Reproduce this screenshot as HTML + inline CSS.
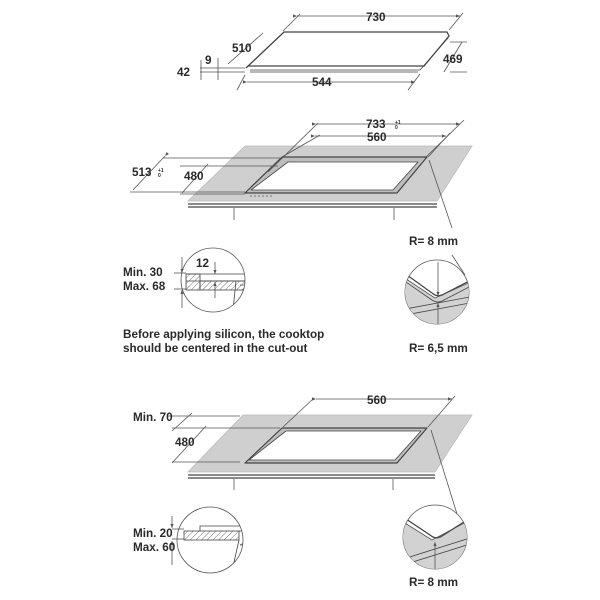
<!DOCTYPE html>
<html><head><meta charset="utf-8"><style>
html,body{margin:0;padding:0;background:#fff}
svg{display:block}
text{font-family:"Liberation Sans",sans-serif;font-weight:bold;fill:#2a2a2a}
</style></head><body>
<svg width="600" height="600" viewBox="0 0 600 600" xmlns="http://www.w3.org/2000/svg">
<defs>
<pattern id="h" width="4" height="4" patternUnits="userSpaceOnUse" patternTransform="rotate(45)">
<line x1="0" y1="0" x2="0" y2="4" stroke="#555" stroke-width="0.8"/></pattern>
<marker id="a" markerWidth="6" markerHeight="6" refX="5" refY="3" orient="auto"><path d="M0,1 L5,3 L0,5" fill="#555"/></marker>
<clipPath id="c1"><circle cx="213" cy="280" r="32"/></clipPath>
<clipPath id="c2"><circle cx="437" cy="292" r="32"/></clipPath>
<clipPath id="c3"><circle cx="210" cy="540" r="33"/></clipPath>
<clipPath id="c4"><circle cx="435" cy="537" r="32"/></clipPath>
</defs>
<g stroke="#555" stroke-width="0.8" fill="none">
<path d="M284,32 L447,32 L449,36 L424,66 L248,66 L246,68 Z" fill="#fff" stroke="#444" stroke-width="1.3"/>
<path d="M250,70 L420,70 L448,38 M250,72 L418,72" stroke="#444"/>
<line x1="297" y1="16" x2="460" y2="16" marker-start="url(#a)" marker-end="url(#a)"/>
<line x1="300" y1="14" x2="283" y2="31"/><line x1="463" y1="13" x2="449" y2="30"/>
<line x1="263" y1="33" x2="228" y2="64"/>
<line x1="450" y1="42" x2="467" y2="42"/><line x1="450" y1="72" x2="467" y2="72"/>
<line x1="462" y1="42" x2="444" y2="72"/>
<line x1="247" y1="82" x2="415" y2="82" marker-start="url(#a)" marker-end="url(#a)"/>
<line x1="245" y1="75" x2="237" y2="90"/><line x1="420" y1="74" x2="408" y2="90"/>
<line x1="200" y1="68" x2="245" y2="68"/><line x1="200" y1="72" x2="245" y2="72"/>
<line x1="218" y1="58" x2="218" y2="80"/><line x1="201" y1="60" x2="201" y2="80"/>
<path d="M245,146 L472,146 L437,201 L188,201 Z" fill="#cfcfcf" stroke="#bbb"/>
<path d="M188,204 L437,204 M188,207 L437,207" stroke="#444" stroke-width="1.2"/>
<line x1="234" y1="208" x2="234" y2="220"/><line x1="394" y1="208" x2="394" y2="220"/>
<path d="M282,157 L427,157 L397,193 L245,193 Z" fill="#bdbdbd" stroke="#444" stroke-width="1.2" stroke-linejoin="round"/>
<path d="M288,162 L418,162 L393,190 L251,190 Z" fill="#fff" stroke="#444" stroke-linejoin="round"/>
<line x1="250" y1="196" x2="272" y2="196" stroke-dasharray="2,2"/>
<line x1="316" y1="124" x2="460" y2="124" marker-start="url(#a)" marker-end="url(#a)"/>
<line x1="318" y1="123" x2="268" y2="172"/><line x1="464" y1="120" x2="425" y2="158"/>
<line x1="315" y1="136" x2="446" y2="136" marker-start="url(#a)" marker-end="url(#a)"/>
<line x1="320" y1="135" x2="282" y2="157"/><line x1="450" y1="133" x2="428" y2="157"/>
<line x1="163" y1="158" x2="280" y2="158"/><line x1="180" y1="166" x2="278" y2="166"/>
<line x1="130" y1="192" x2="245" y2="192"/><line x1="180" y1="194" x2="245" y2="194"/>
<line x1="165" y1="156" x2="133" y2="190" marker-start="url(#a)"/>
<line x1="208" y1="164" x2="182" y2="193"/>
<line x1="429" y1="160" x2="452" y2="228"/>
<circle cx="213" cy="280" r="32" fill="#fff"/>
<g clip-path="url(#c1)">
<path d="M186,274 L250,274 L250,281 L186,281" stroke="#444"/>
<rect x="186" y="274" width="14" height="16" fill="url(#h)" stroke="#444"/>
<rect x="200" y="281" width="50" height="9" fill="url(#h)" stroke="#444"/>
<path d="M236,281 L232,320" stroke="#444"/><path d="M240,285 L250,285 L250,320" fill="url(#h)"/>
<line x1="215" y1="262" x2="215" y2="274" marker-end="url(#a)"/>
<line x1="215" y1="298" x2="215" y2="282" marker-end="url(#a)"/>
</g>
<line x1="174" y1="273" x2="186" y2="273"/><line x1="174" y1="289" x2="186" y2="289"/>
<line x1="182" y1="257" x2="182" y2="273" marker-end="url(#a)"/>
<line x1="182" y1="308" x2="182" y2="290" marker-end="url(#a)"/>
<circle cx="437" cy="292" r="32" fill="#fff"/>
<g clip-path="url(#c2)">
<path d="M400,275 L435,298 L475,280 L475,330 L400,330 Z" fill="#d2d2d2"/>
<path d="M400,270 L432,293 Q438,298 444,294 L475,278" stroke="#444" stroke-width="1.2"/>
<path d="M400,278 L432,300 Q438,304 444,300 L475,284" stroke="#444"/>
<path d="M400,310 L475,296 M400,316 L475,302" stroke="#444"/>
<line x1="438" y1="262" x2="438" y2="296" marker-end="url(#a)"/>
<line x1="438" y1="330" x2="438" y2="303" marker-end="url(#a)"/>
</g>
<line x1="452" y1="255" x2="465" y2="275"/>
<path d="M243,415 L472,415 L435,472 L188,472 Z" fill="#cfcfcf" stroke="#bbb"/>
<path d="M188,475 L435,475 M188,478 L435,478" stroke="#444" stroke-width="1.2"/>
<line x1="234" y1="479" x2="234" y2="490"/><line x1="393" y1="479" x2="393" y2="490"/>
<path d="M282,428 L427,428 L397,463 L245,463 Z" fill="#bdbdbd" stroke="#444" stroke-width="1.2" stroke-linejoin="round"/>
<path d="M286,431 L421,431 L395,460 L249,460 Z" fill="#fff" stroke="#444" stroke-linejoin="round"/>
<line x1="316" y1="399" x2="452" y2="399" marker-start="url(#a)" marker-end="url(#a)"/>
<line x1="314" y1="398" x2="283" y2="427"/><line x1="455" y1="396" x2="428" y2="427"/>
<line x1="167" y1="416" x2="240" y2="416"/><line x1="172" y1="428" x2="280" y2="428"/>
<line x1="172" y1="462" x2="240" y2="462"/>
<line x1="192" y1="413" x2="172" y2="431"/><line x1="206" y1="426" x2="172" y2="463"/>
<line x1="431" y1="430" x2="457" y2="514"/>
<circle cx="210" cy="540" r="33" fill="#fff"/>
<g clip-path="url(#c3)">
<path d="M200,531 L200,526 L250,526 L250,531" stroke="#444"/>
<rect x="184" y="531" width="55" height="9" fill="url(#h)" stroke="#444"/>
<path d="M239,531 L250,531 L250,580 M239,540 L230,580" stroke="#444"/>
<path d="M240,545 L250,540 L250,580" fill="url(#h)"/>
</g>
<line x1="172" y1="529" x2="184" y2="529"/><line x1="172" y1="539" x2="184" y2="539"/>
<line x1="172" y1="516" x2="172" y2="528" marker-end="url(#a)"/>
<line x1="172" y1="565" x2="172" y2="541" marker-end="url(#a)"/>
<circle cx="435" cy="537" r="32" fill="#fff"/>
<g clip-path="url(#c4)">
<path d="M400,520 L432,540 L470,520 L470,580 L400,580 Z" fill="#d2d2d2"/>
<path d="M400,515 L430,535 Q436,540 442,536 L470,518" stroke="#444" stroke-width="1.2"/>
<path d="M400,560 L470,538 M400,566 L470,544" stroke="#444"/>
<line x1="435" y1="575" x2="435" y2="542" marker-end="url(#a)"/>
</g>
</g>
<g font-size="11.7">
<text x="366" y="21">730</text>
<text x="232" y="52">510</text>
<text x="443" y="63">469</text>
<text x="312" y="86">544</text>
<text x="205" y="64">9</text>
<text x="177" y="76">42</text>
<text x="366" y="128">733</text>
<text x="395" y="124" font-size="5">+1</text><text x="395" y="129" font-size="5">0</text>
<text x="367" y="141">560</text>
<text x="132" y="176">513</text>
<text x="158" y="172" font-size="5">+1</text><text x="158" y="177" font-size="5">0</text>
<text x="184" y="180">480</text>
<text x="409" y="245">R= 8 mm</text>
<text x="196" y="267">12</text>
<text x="123" y="276">Min. 30</text>
<text x="123" y="290">Max. 68</text>
<text x="123" y="338">Before applying silicon, the cooktop</text>
<text x="123" y="352">should be centered in the cut-out</text>
<text x="409" y="352">R= 6,5 mm</text>
<text x="367" y="404">560</text>
<text x="133" y="421">Min. 70</text>
<text x="175" y="446">480</text>
<text x="133" y="537">Min. 20</text>
<text x="133" y="551">Max. 60</text>
<text x="409" y="586">R= 8 mm</text>
</g>
</svg>
</body></html>
